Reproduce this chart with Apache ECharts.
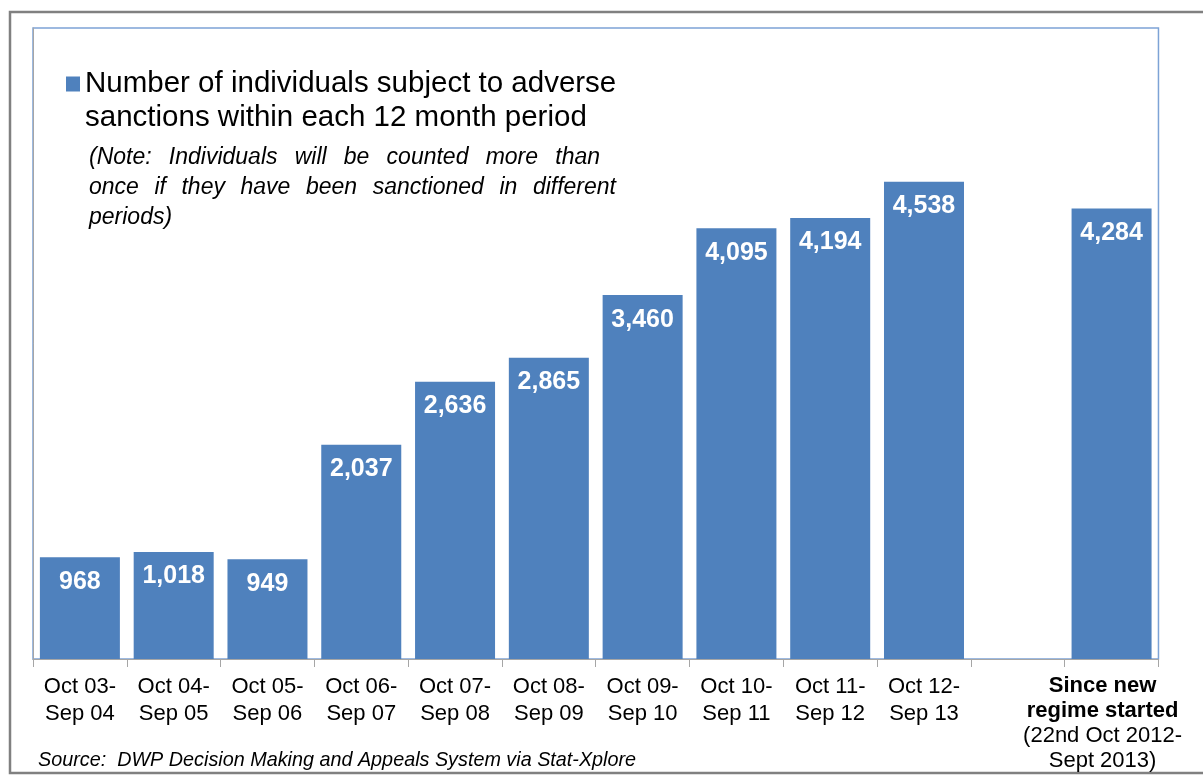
<!DOCTYPE html>
<html>
<head>
<meta charset="utf-8">
<script src="https://cdn.jsdelivr.net/npm/echarts@6/dist/echarts.min.js"></script>
<style>
html,body{margin:0;padding:0;background:#fff;}
#chart{width:1203px;height:776px;}
</style>
</head>
<body>
<div id="chart"></div>
<script>
const categories = ['Oct 03-\nSep 04','Oct 04-\nSep 05','Oct 05-\nSep 06','Oct 06-\nSep 07','Oct 07-\nSep 08','Oct 08-\nSep 09','Oct 09-\nSep 10','Oct 10-\nSep 11','Oct 11-\nSep 12','Oct 12-\nSep 13','','{b|Since new}\n{b|regime started}\n{n|(22nd Oct 2012-}\n{n|Sept 2013)}'];
const values = [968, 1018, 949, 2037, 2636, 2865, 3460, 4095, 4194, 4538, '-', 4284];
const seriesName = 'Number of individuals subject to adverse\nsanctions within each 12 month period';
const noteLines = ['(Note: Individuals will be counted more than', 'once if they have been sanctioned in different', 'periods)'];
const sourceText = 'Source:  DWP Decision Making and Appeals System via Stat-Xplore';

const FONT = '"Liberation Sans", Arial, sans-serif';

// justified note text: each word as its own text element
const NOTE_SIZE = 23, NOTE_LH = 30, NOTE_X = 89, NOTE_Y = 143;
const noteWidths = [511, 527, null];
const cv = document.createElement('canvas').getContext('2d');
cv.font = 'italic ' + NOTE_SIZE + 'px ' + FONT;
const noteGraphics = [];
noteLines.forEach((line, i) => {
  const words = line.split(' ');
  const ws = words.map(w => cv.measureText(w).width);
  const total = ws.reduce((a, b) => a + b, 0);
  const target = noteWidths[i];
  const gap = (target && words.length > 1) ? (target - total) / (words.length - 1) : cv.measureText(' ').width;
  let x = NOTE_X;
  words.forEach((w, j) => {
    noteGraphics.push({type:'text', x:x, y:NOTE_Y + i * NOTE_LH + NOTE_LH / 2,
      style:{text:w, fontFamily:FONT, fontSize:NOTE_SIZE, fontStyle:'italic', fill:'#000', verticalAlign:'middle', align:'left'}});
    x += ws[j] + gap;
  });
});

const chart = echarts.init(document.getElementById('chart'), null, {renderer:'canvas'});
chart.setOption({
  backgroundColor:'#ffffff',
  animation:false,
  grid:{left:33,right:43,top:28,bottom:117,show:true,borderColor:'#7da3d6',borderWidth:1.5,containLabel:false},
  legend:{
    show:true, left:61, top:28, orient:'vertical',
    itemWidth:14, itemHeight:15, itemGap:0,
    icon:'rect',
    data:[seriesName],
    formatter: n => '\n' + n,
    textStyle:{fontFamily:FONT,fontSize:29.5,lineHeight:34,color:'#000'}
  },
  xAxis:{
    type:'category', data:categories,
    axisLine:{show:true,lineStyle:{color:'#a6a6a6',width:1}},
    axisTick:{show:true,length:8,lineStyle:{color:'#a6a6a6'}},
    axisLabel:{interval:0,fontFamily:FONT,fontSize:22,lineHeight:27,color:'#000',margin:14,
      rich:{
        b:{fontFamily:FONT,fontSize:22,fontWeight:'bold',lineHeight:25,color:'#000',padding:[0,18,0,0]},
        n:{fontFamily:FONT,fontSize:22,lineHeight:25,color:'#000',padding:[0,18,0,0]}
      }}
  },
  yAxis:{
    type:'value', min:0, max:6000, interval:1000,
    axisLine:{show:true,lineStyle:{color:'#a6a6a6',width:1}},
    axisTick:{show:false}, axisLabel:{show:false}, splitLine:{show:false}
  },
  series:[{
    name:seriesName, type:'bar', data:values, barWidth:80,
    itemStyle:{color:'#4F81BD'},
    label:{show:true,position:'insideTop',distance:12,color:'#fff',fontFamily:FONT,fontSize:25,fontWeight:'bold',
      formatter:p=>p.value.toLocaleString('en-US')}
  }],
  graphic:[
    {type:'rect',shape:{x:10,y:12,width:1215,height:761},style:{fill:'none',stroke:'#808080',lineWidth:2.5},silent:true,z:-1},
    {type:'text',left:38,top:750,style:{text:sourceText,fontFamily:FONT,fontSize:19.8,fontStyle:'italic',fill:'#000'}}
  ].concat(noteGraphics)
});
</script>
</body>
</html>
